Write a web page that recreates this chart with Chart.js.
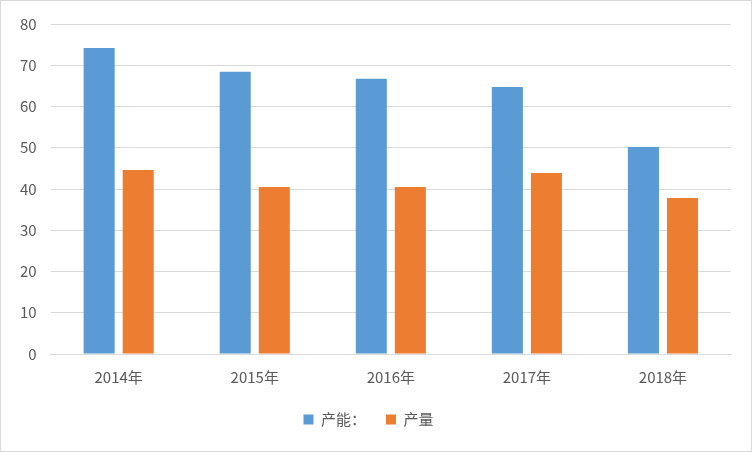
<!DOCTYPE html>
<html>
<head>
<meta charset="utf-8">
<script src="https://cdn.jsdelivr.net/npm/chart.js@4"></script>
<style>
  body { margin: 0; background: #fff; }
  #wrap { width: 750px; height: 450px; border: 1px solid #d9d9d9; }
</style>
</head>
<body>
<div id="wrap"><canvas id="chart" width="750" height="450"></canvas></div>
<script>
// 年份与两组数据
const years = ['2014年', '2015年', '2016年', '2017年', '2018年'];
const capacity = [74.2, 68.4, 66.7, 64.7, 50.2];
const output = [44.6, 40.5, 40.5, 43.9, 37.8];
const yTicks = [0, 10, 20, 30, 40, 50, 60, 70, 80];

const font = { family: '"Noto Sans CJK SC", sans-serif', size: 15 };

new Chart(document.getElementById('chart').getContext('2d'), {
    type: 'bar',
    data: {
        labels: years,
        datasets: [
            { label: '产能：', data: capacity, backgroundColor: '#5B9BD5' },
            { label: '产量', data: output, backgroundColor: '#ED7D31' }
        ]
    },
    options: {
        responsive: false,
        animation: false,
        categoryPercentage: 0.574,
        barPercentage: 0.795,
        layout: { padding: { left: 5, right: 20, top: 14, bottom: 14 } },
        plugins: {
            tooltip: { enabled: false },
            legend: {
                position: 'bottom',
                labels: { font: font, color: '#595959', boxWidth: 10, boxHeight: 10, padding: 20 }
            }
        },
        scales: {
            x: {
                grid: { display: false },
                border: { color: '#d9d9d9' },
                ticks: { font: font, color: '#595959', padding: 6 }
            },
            y: {
                min: 0, max: 80,
                afterBuildTicks: axis => { axis.ticks = yTicks.map(v => ({ value: v })); },
                grid: { color: '#d9d9d9', drawTicks: false },
                border: { display: false },
                ticks: { font: font, color: '#595959', padding: 14 }
            }
        }
    }
});
</script>
</body>
</html>
